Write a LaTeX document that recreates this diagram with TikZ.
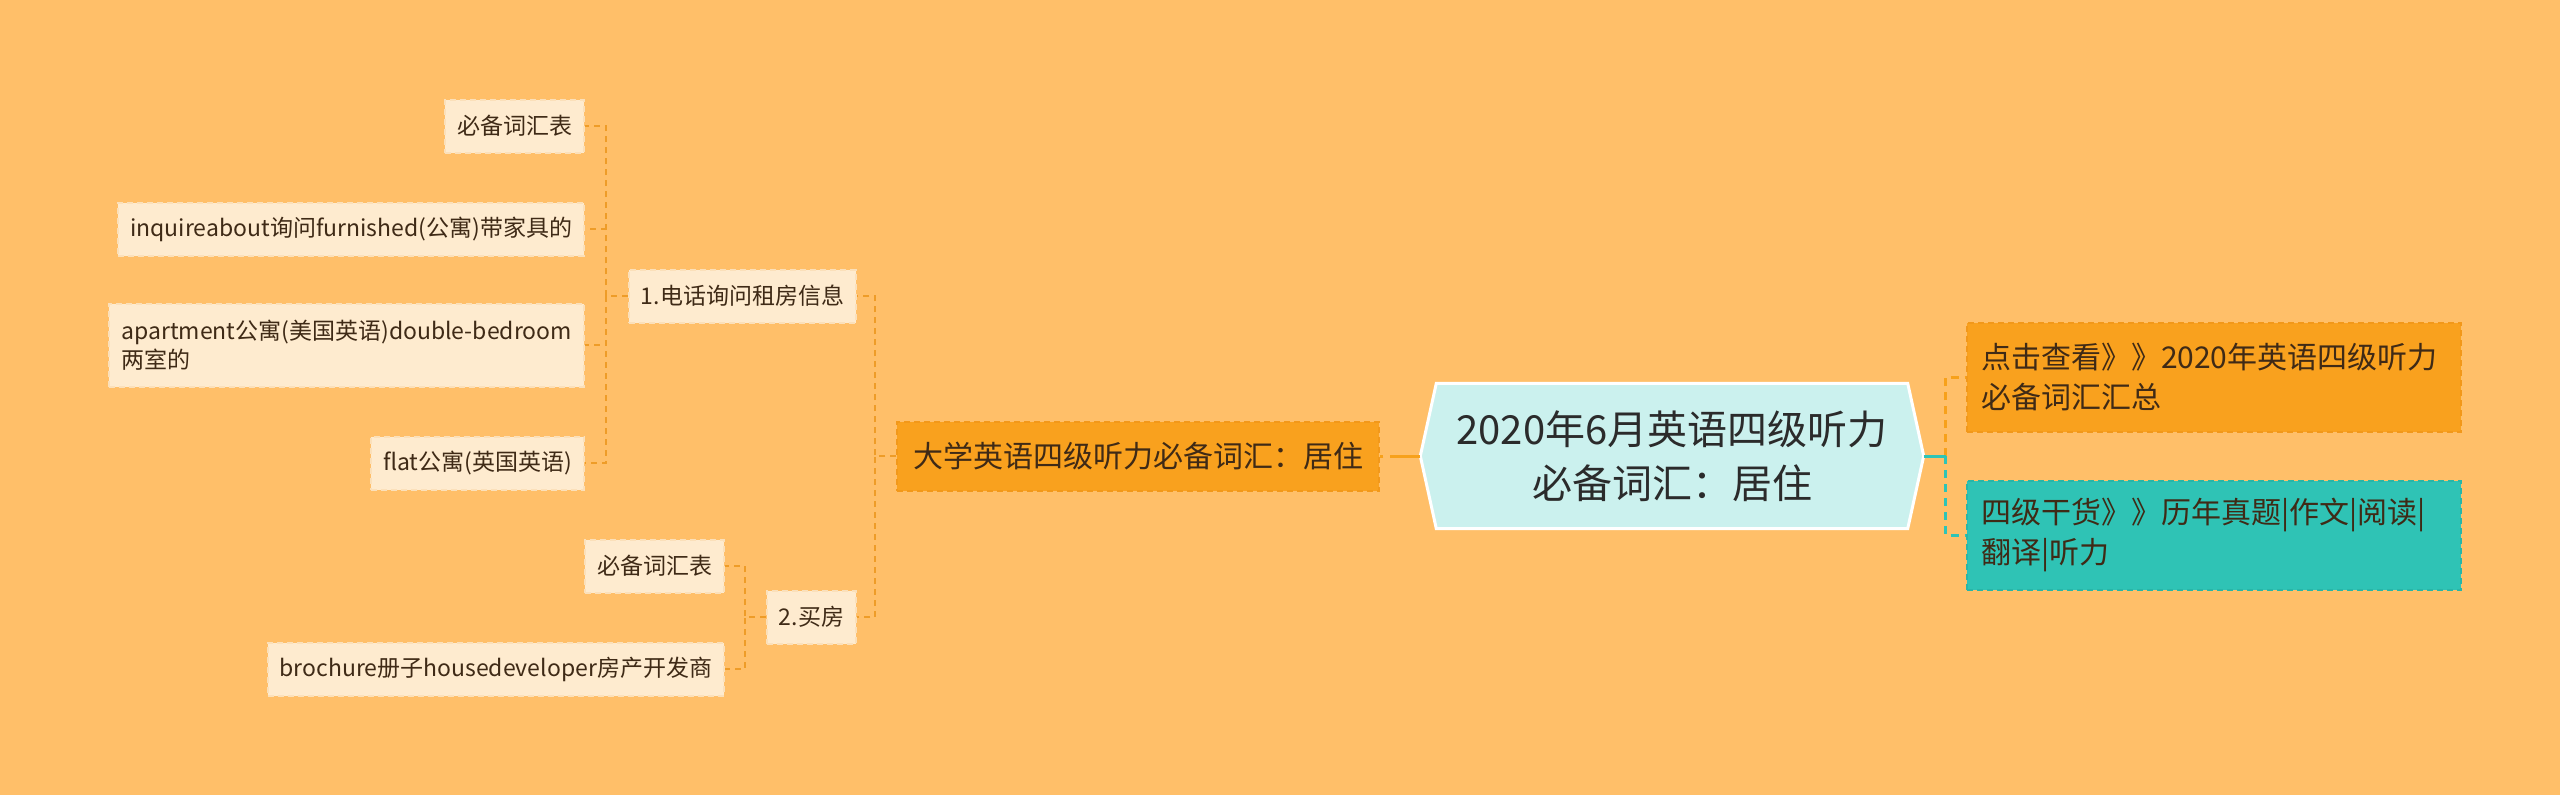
\documentclass[tikz,border=0pt]{standalone}
\usepackage{fontspec}
\setmainfont{Noto Sans CJK SC}
\usetikzlibrary{backgrounds}
\definecolor{bgcol}{HTML}{FFBF69}
\definecolor{leaffill}{HTML}{FEEBCF}
\definecolor{leafdraw}{HTML}{FBE0BA}
\definecolor{leaftext}{HTML}{3F2A16}
\definecolor{mainfill}{HTML}{F9A11E}
\definecolor{maindraw}{HTML}{F2981A}
\definecolor{rootfill}{HTML}{CBF1EE}
\definecolor{tealfill}{HTML}{2FC3B5}
\definecolor{tealdraw}{HTML}{28B6A8}
\definecolor{connor}{HTML}{EE9C28}
\definecolor{connor2}{HTML}{F7A11B}
\definecolor{connteal}{HTML}{2EC4B6}
\definecolor{roottext}{HTML}{2B2B2B}
\tikzset{
  leaf/.style={fill=leaffill, draw=leafdraw, dash pattern=on 6pt off 4pt, line width=2pt,
    text=leaftext, font=\fontsize{23}{29}\selectfont, inner xsep=12pt, inner ysep=0pt,
    minimum height=53pt, anchor=east},
  mainnode/.style={fill=mainfill, draw=maindraw, dash pattern=on 6pt off 4pt, line width=2pt,
    text=leaftext, font=\fontsize{30}{38}\selectfont, inner xsep=16pt, inner ysep=0pt,
    minimum height=69pt, anchor=east},
  rootnode/.style={text=roottext, font=\fontsize{40}{54}\selectfont, align=center,
    minimum width=503pt, minimum height=145pt, inner sep=0pt},
  rightnode/.style={dash pattern=on 6pt off 4pt, line width=2pt, text=leaftext,
    font=\fontsize{30}{40}\selectfont, align=left, text width=466pt, inner xsep=14pt,
    inner ysep=0pt, minimum height=109pt, anchor=west},
  conn/.style={draw=connor, line width=2pt, dash pattern=on 6pt off 5pt},
  connmain/.style={draw=connor2, line width=3pt, dash pattern=on 30pt off 7pt},
  connr/.style={line width=3pt, dash pattern=on 8pt off 6pt},
}
\begin{document}
\begin{tikzpicture}[x=1pt,y=-1pt]
\begin{scope}[on background layer]
\fill[bgcol] (0,0) rectangle (2560,795);
\end{scope}
\useasboundingbox (0,0) rectangle (2560,795);

% root
\node[rootnode] (root) at (1672,456) {2020年6月英语四级听力\\必备词汇：居住};
\begin{scope}[on background layer]
\draw[fill=rootfill, draw=white, line width=3pt, line join=miter]
  (root.west) -- ([xshift=16pt]root.north west) -- ([xshift=-16pt]root.north east)
  -- (root.east) -- ([xshift=-16pt]root.south east) -- ([xshift=16pt]root.south west) -- cycle;
\end{scope}

% main left node
\node[mainnode] (main) at (1380,456) {大学英语四级听力必备词汇：居住};

% second level
\node[leaf] (s1) at (857,296) {1.电话询问租房信息};
\node[leaf] (s2) at (857,617) {2.买房};

% leaves
\node[leaf] (l1) at (585,126) {必备词汇表};
\node[leaf] (l2) at (585,229) {inquireabout询问furnished(公寓)带家具的};
\node[leaf, align=left, minimum height=83pt] (l3) at (585,345) {apartment公寓(美国英语)double-bedroom\\两室的};
\node[leaf] (l4) at (585,463) {flat公寓(英国英语)};
\node[leaf] (l5) at (725,566) {必备词汇表};
\node[leaf] (l6) at (725,669) {brochure册子housedeveloper房产开发商};

% right nodes
\node[rightnode, fill=mainfill, draw=maindraw] (r1) at (1966,377) {点击查看》》2020年英语四级听力\\必备词汇汇总};
\node[rightnode, fill=tealfill, draw=tealdraw] (r2) at (1966,535) {四级干货》》历年真题|作文|阅读|\\翻译|听力};

% connectors
\draw[connmain] (root.west) -- (main.east);
\draw[conn] (main.west) -- ++(-21,0) |- (s1.east);
\draw[conn] (main.west) -- ++(-21,0) |- (s2.east);
\draw[conn] (s1.west) -- ++(-22,0) |- (l1.east);
\draw[conn] (s1.west) -- ++(-22,0) |- (l2.east);
\draw[conn] (s1.west) -- ++(-22,0) |- (l3.east);
\draw[conn] (s1.west) -- ++(-22,0) |- (l4.east);
\draw[conn] (s2.west) -- ++(-21,0) |- (l5.east);
\draw[conn] (s2.west) -- ++(-21,0) |- (l6.east);
\coordinate (rj) at ([xshift=22pt]root.east);
\draw[connr, draw=connor2] (rj) |- (r1.west);
\draw[connr, draw=connteal] (rj) |- (r2.west);
\draw[draw=connteal, line width=3pt] (root.east) -- (rj);
\end{tikzpicture}
\end{document}
